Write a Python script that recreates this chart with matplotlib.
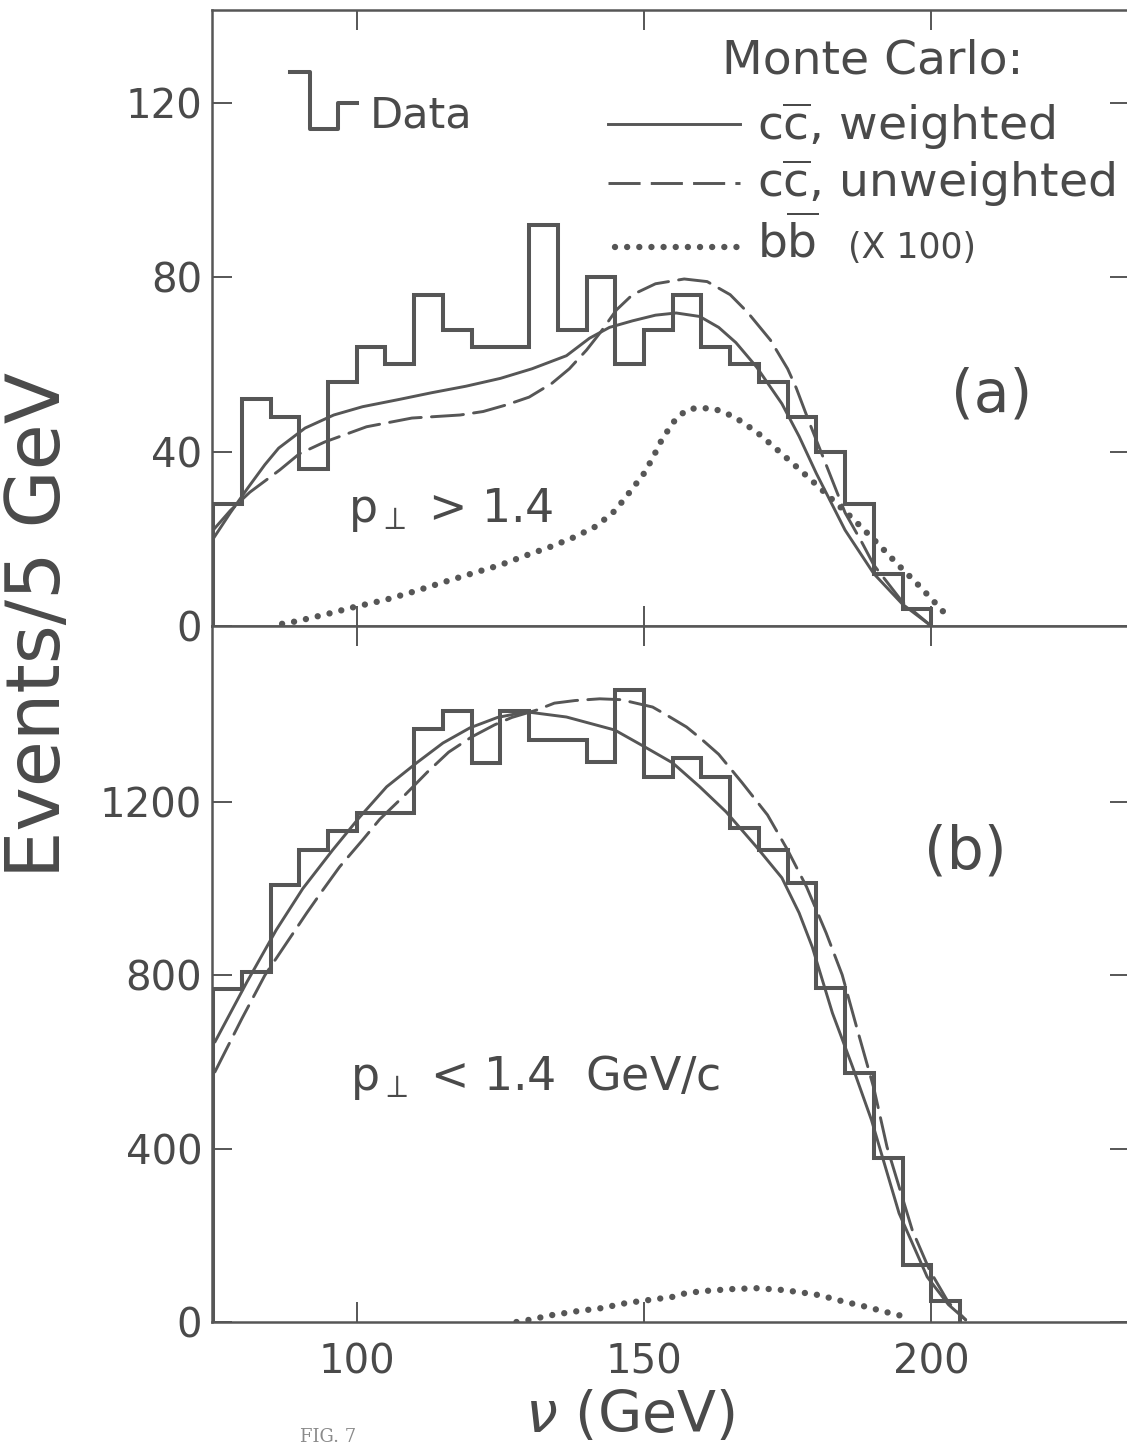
import matplotlib
matplotlib.use("Agg")
import matplotlib.pyplot as plt
from matplotlib.lines import Line2D
import numpy as np

plt.rcParams['font.family'] = ['DejaVu Sans']
plt.rcParams['mathtext.fontset'] = 'dejavusans'

# ---------------- data ----------------
edges_a = np.arange(75, 205, 5)            # 75..200
data_a = [28, 52, 48, 36, 56, 64, 60, 76, 68, 64, 64, 92, 68, 80, 60,
          68, 76, 64, 60, 56, 48, 40, 28, 12, 4]

edges_b = np.arange(75, 210, 5)            # 75..205
data_b = [768, 808, 1008, 1089, 1133, 1175, 1175, 1369, 1410, 1290, 1410,
          1343, 1343, 1293, 1459, 1258, 1302, 1258, 1140, 1089, 1013, 771,
          575, 378, 132, 48]

w_a_x = [75, 78, 81, 84, 86.4, 91, 96, 101, 107.5, 113, 119, 125, 130.5, 136.5,
         140.5, 144, 148, 152, 155.6, 159.7, 163, 166, 169.6, 174, 177, 180,
         185, 190, 195, 200]
w_a_y = [20, 26, 31.6, 37, 40.8, 45.4, 48.4, 50.3, 52, 53.5, 55, 56.8, 59, 62,
         66, 68.5, 70, 71.3, 71.8, 71, 68.5, 65, 59.4, 51, 43.5, 35,
         22, 12, 5, 0]

u_a_x = [75, 78, 81.4, 86.6, 90, 94.4, 101.7, 109.6, 118, 122, 126, 130, 134,
         137, 140, 142.5, 145.2, 148, 152, 157, 161, 165, 168, 172, 175,
         176.5, 178.8, 182, 185, 188, 190, 195, 200]
u_a_y = [22, 26.5, 30.7, 35.8, 39.5, 42.2, 45.7, 47.7, 48.4, 49.2, 50.7, 52.5,
         55.7, 59, 63.3, 67.5, 72.5, 76, 78.5, 79.6, 79, 76, 72, 65.6, 59,
         54.6, 46.6, 36, 26, 19, 14, 5.5, 0]

b_a_x = [87, 89.6, 95, 99.7, 105, 109.7, 115, 119.7, 125, 129.7, 134, 137.9,
         141.7, 145, 147.8, 150, 151.5, 153.2, 155.8, 157.9, 160, 162.3, 165.7,
         169.6, 172.7, 175.8, 179.1, 182.3, 186.6, 191.3, 194.1, 197.4, 200.2,
         203]
b_a_y = [0.5, 1.1, 2.8, 4.4, 6, 7.8, 10, 11.9, 14, 16.3, 18.3, 20.4, 22.9,
         26.5, 31.2, 35, 38.5, 43, 48, 49.8, 50, 49.8, 48, 44.5, 41, 37.4,
         33.5, 29.6, 24.3, 18.1, 14.2, 9.9, 6, 2]

w_b_x = [75.3, 80.9, 86, 90.6, 95.8, 100.5, 105.2, 110.4, 115, 119.7, 124.5,
         129.5, 136.5, 144.9, 150, 155, 159.7, 164.3, 169.6, 174, 177, 179.3,
         182.8, 186.3, 189.6, 194.4, 197, 199.3, 203, 206]
w_b_y = [646, 785, 905, 1000, 1089, 1165, 1235, 1290, 1336, 1371, 1395, 1408,
         1396, 1366, 1328, 1290, 1235, 1177, 1096, 1025, 944, 865, 713, 589,
         466, 251, 173, 104, 40, 5]

u_b_x = [75.3, 80, 84, 87.8, 91.3, 94, 97, 101, 104, 108.3, 112.3, 116, 120,
         124, 127, 131.3, 134.4, 138, 142.3, 146, 151.5, 154, 157.4, 160, 163,
         167.1, 171.5, 175, 178.3, 181.7, 184.5, 187, 190, 192.3, 196.7,
         199.7, 203, 206]
u_b_y = [577, 700, 800, 875, 944, 995, 1050, 1112, 1160, 1215, 1269, 1315,
         1350, 1378, 1395, 1412, 1428, 1434, 1438, 1436, 1419, 1400, 1373,
         1345, 1310, 1244, 1170, 1089, 1004, 898, 801, 681, 540, 404, 212,
         120, 45, 5]

b_b_x = [127.8, 130, 134, 138.4, 142.6, 147, 151, 155, 157.4, 161, 165.4,
         169.7, 174, 177, 180.5, 184.5, 188.7, 192.7, 196.5]
b_b_y = [0, 5, 16, 25, 32, 44, 51, 58, 67, 72, 76, 78, 74, 69, 62, 48, 35,
         21, 9]

yticks_a = [0, 40, 80, 120]
yticks_b = [0, 400, 800, 1200]
xticks = [100, 150, 200]

# ---------------- style ----------------
W, H = 1127, 1448
INK = '#565656'
TXT = '#4a4a4a'
LW_H = 2.9
LW_C = 2.1
DASH = (0, (11, 3.5))
LW_D = 4.6
DOT = (0, (0.001, 1.9))


def px(x, y):
    return (x / W, 1 - y / H)


fig = plt.figure(figsize=(W / 100, H / 100), dpi=100)
left, right = 212, 1130
ax1 = fig.add_axes([left / W, 1 - 626 / H, (right - left) / W, 616 / H])
ax2 = fig.add_axes([left / W, 1 - 1322 / H, (right - left) / W, 696 / H])

for ax in (ax1, ax2):
    ax.set_xlim(74.8, 234.6)
    ax.set_xticks(xticks)
    for s in ax.spines.values():
        s.set_color(INK)
        s.set_linewidth(1.8)
    ax.tick_params(direction='in', length=14.5, width=1.4, colors=INK,
                   top=True, right=True, labelsize=29, labelcolor=TXT, pad=7)

ax1.set_ylim(0, 141.3)
ax1.set_yticks(yticks_a)
ax1.tick_params(labelbottom=False)
ax2.set_ylim(0, 1606)
ax2.set_yticks(yticks_b)
ax2.tick_params(axis='x', pad=15)

# histograms
ax1.stairs(data_a, edges_a, baseline=0, color=INK, lw=LW_H)
ax2.stairs(data_b, edges_b, baseline=0, color=INK, lw=LW_H)

# curves
for ax, (wx, wy), (ux, uy), (bx, by) in (
        (ax1, (w_a_x, w_a_y), (u_a_x, u_a_y), (b_a_x, b_a_y)),
        (ax2, (w_b_x, w_b_y), (u_b_x, u_b_y), (b_b_x, b_b_y))):
    ax.plot(wx, wy, color=INK, lw=LW_C, solid_capstyle='round')
    ax.plot(ux, uy, color=INK, lw=LW_C, linestyle=DASH, dash_capstyle='round')
    ax.plot(bx, by, color=INK, lw=LW_D, linestyle=DOT, dash_capstyle='round')

# ---------------- legend (drawn in figure pixels) ----------------
def fline(xs, ys, **kw):
    pts = [px(x, y) for x, y in zip(xs, ys)]
    fig.add_artist(Line2D([p[0] for p in pts], [p[1] for p in pts],
                          transform=fig.transFigure, color=INK, **kw))

fline([290, 310, 310, 338, 338, 357], [72, 72, 129, 129, 103, 103], lw=LW_H)
fig.text(*px(370, 128), 'Data', fontsize=31, color=TXT, va='baseline')

fig.text(*px(722, 73), 'Monte Carlo:', fontsize=34, color=TXT, va='baseline')
fline([608, 740], [124, 124], lw=LW_C)
fline([608, 740], [183, 183], lw=LW_C, linestyle=DASH)
fline([615, 740], [247, 247], lw=LW_D, linestyle=DOT, dash_capstyle='round')
fig.text(*px(757, 140), r'c$\overline{\mathrm{c}}$, weighted', fontsize=34,
         color=TXT, va='baseline')
fig.text(*px(757, 197), r'c$\overline{\mathrm{c}}$, unweighted', fontsize=34,
         color=TXT, va='baseline')
fig.text(*px(757, 258), r'b$\overline{\mathrm{b}}$', fontsize=34,
         color=TXT, va='baseline')
fig.text(*px(848, 258), '(X 100)', fontsize=25, color=TXT, va='baseline')

# panel annotations
fig.text(*px(348, 522), r'p$_{\perp}$ > 1.4', fontsize=33, color=TXT,
         va='baseline')
fig.text(*px(350, 1090), r'p$_{\perp}$ < 1.4  GeV/c', fontsize=33, color=TXT,
         va='baseline')
fig.text(*px(992, 395), '(a)', fontsize=42, color=TXT, ha='center', va='center')
fig.text(*px(965, 852), '(b)', fontsize=42, color=TXT, ha='center', va='center')

# axis titles
fig.text(*px(40, 625), 'Events/5 GeV', fontsize=54, color=TXT, rotation=90,
         ha='center', va='center')
fig.text(*px(630, 1416), r'$\nu$ (GeV)', fontsize=41, color=TXT,
         ha='center', va='center')
fig.text(*px(300, 1428), 'FIG. 7', fontsize=13, color='#8a8a8a',
         family='DejaVu Serif', va='top')

fig.savefig('out.png', dpi=100)
